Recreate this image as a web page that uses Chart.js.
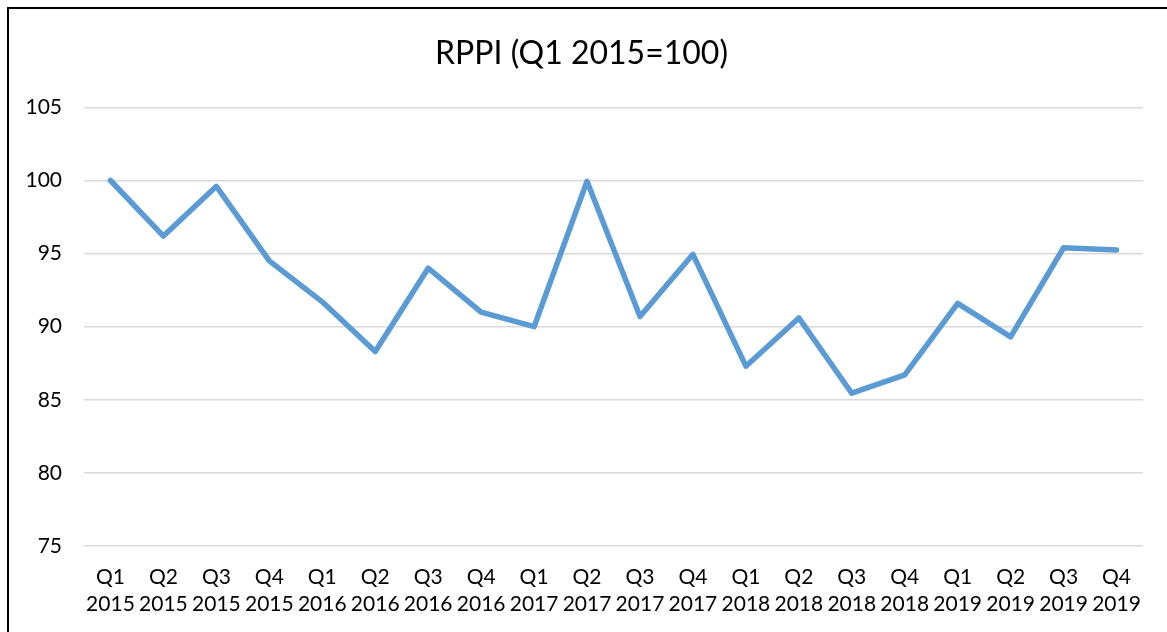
<!DOCTYPE html>
<html>
<head>
<meta charset="utf-8">
<script src="https://cdn.jsdelivr.net/npm/chart.js@4"></script>
<style>
  body { margin: 0; background: #fff; overflow: hidden; }
  #wrap { position: relative; width: 1167px; height: 632px; overflow: hidden; }
  #frame { position: absolute; left: 7px; top: 7px; width: 1200px; height: 640px; border: 2px solid #000; box-sizing: border-box; }
  canvas { position: absolute; left: 0; top: 0; }
</style>
</head>
<body>
<div id="wrap">
  <div id="frame"></div>
  <canvas id="rppiChart" width="1167" height="632"></canvas>
</div>
<script>
// Quarter labels (two lines each)
const quarters = ['Q1', 'Q2', 'Q3', 'Q4', 'Q1', 'Q2', 'Q3', 'Q4', 'Q1', 'Q2', 'Q3', 'Q4', 'Q1', 'Q2', 'Q3', 'Q4', 'Q1', 'Q2', 'Q3', 'Q4'];
const years = ['2015', '2015', '2015', '2015', '2016', '2016', '2016', '2016', '2017', '2017', '2017', '2017', '2018', '2018', '2018', '2018', '2019', '2019', '2019', '2019'];
const rppiValues = [100, 96.2, 99.6, 94.5, 91.7, 88.3, 94.0, 91.0, 90.0, 99.95, 90.7, 94.95, 87.3, 90.6, 85.45, 86.7, 91.6, 89.3, 95.4, 95.25];
const yTicks = [75, 80, 85, 90, 95, 100, 105];

const labels = quarters.map((q, i) => [q, years[i]]);
const fontFamily = 'Lato, "Open Sans", sans-serif';

const ctx = document.getElementById('rppiChart');

new Chart(ctx, {
  type: 'line',
  data: {
    labels: labels,
    datasets: [{
      data: rppiValues,
      borderColor: '#5B9BD5',
      borderWidth: 5.5,
      pointRadius: 0,
      tension: 0,
      borderJoinStyle: 'round',
      borderCapStyle: 'round',
    }]
  },
  options: {
    responsive: false,
    animation: false,
    layout: {
      padding: { left: 20, right: 24, top: 0, bottom: 0 }
    },
    plugins: {
      legend: { display: false },
      tooltip: { enabled: false },
      title: {
        display: true,
        text: 'RPPI (Q1 2015=100)',
        color: '#000',
        font: { family: fontFamily, size: 32, weight: 'normal', lineHeight: 1.2 },
        padding: { top: 34, bottom: 35 }
      }
    },
    scales: {
      x: {
        offset: true,
        grid: { display: false, drawTicks: false },
        border: { display: false },
        ticks: {
          color: '#000',
          maxRotation: 0,
          autoSkip: false,
          padding: 18,
          font: { family: fontFamily, size: 21, lineHeight: '27px' }
        },
        afterFit: (axis) => { axis.height = 86; }
      },
      y: {
        min: 75,
        max: 105,
        afterBuildTicks: (axis) => { axis.ticks = yTicks.map(v => ({ value: v })); },
        grid: { color: '#d9d9d9', lineWidth: 1.5, drawTicks: false },
        border: { display: false },
        ticks: {
          color: '#000',
          padding: 22,
          font: { family: fontFamily, size: 21 }
        },
        afterFit: (axis) => { axis.width = 64; }
      }
    }
  }
});
</script>
</body>
</html>
